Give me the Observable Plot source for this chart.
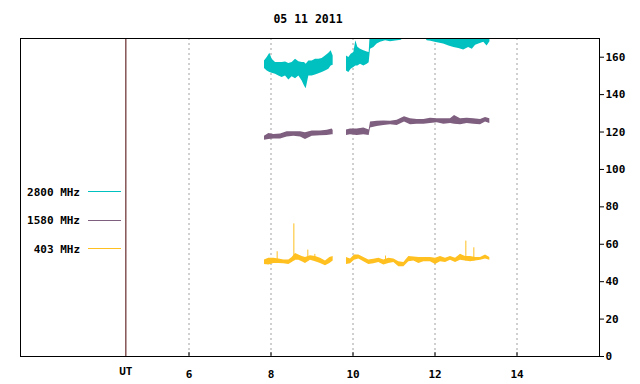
<!DOCTYPE html>
<html><head><meta charset="utf-8">
<script src="https://cdn.jsdelivr.net/npm/d3@7"></script>
<script src="https://cdn.jsdelivr.net/npm/@observablehq/plot@0.6"></script>
<style>
body{margin:0;background:#fff;font-family:"DejaVu Sans Mono",monospace;font-weight:bold;}
#title{height:30px;width:640px;position:relative}
#title span{position:absolute;left:308px;top:19px;transform:translate(-50%,-50%);font-size:11.5px;white-space:pre}
#chart svg{display:block}
</style></head><body>
<div id="title"><span>05 11 2011</span></div>
<div id="chart"></div>
<script>
const titleText = "05 11 2011";
const xTicks = [6, 8, 10, 12, 14];
const yTicks = [0, 20, 40, 60, 80, 100, 120, 140, 160];
const xDomain = [1.89, 16.012];
const yDomain = [0, 170];
const utX = 4.46;
const legendLabels = ["2800 MHz", "1580 MHz", "403 MHz"];
const colors = ["#00c0c0", "#7f5f7f", "#ffc020"];

// 2800 MHz band (null = data gap)
const tealT = [7.841,7.907,7.972,8.028,8.110,8.191,8.272,8.354,8.435,8.516,8.598,8.679,8.760,8.817,8.858,8.923,9.004,9.085,9.167,9.248,9.329,9.411,9.467,9.516,
  9.68,
  9.841,9.898,9.955,10.020,10.069,10.118,10.183,10.264,10.346,10.394,10.427,10.508,10.589,10.671,10.793,10.915,11.04,11.18,11.30,11.50,11.70,11.81,11.9,12.0,12.21,12.34,12.46,12.58,12.70,12.82,12.91,12.99,13.07,13.19,13.27,13.34];
const tealLo = [153.9,152.6,151.8,151.4,150.9,150,149.1,150,147.8,149.5,148.5,150,147.3,144.6,143.2,150,150,150.5,151.2,151.8,152.6,153.6,155.3,155.7,
  null,
  152.6,151.8,153.6,154.5,155.3,155.3,156.2,155.3,156.2,157,164.3,165.2,167,168,168.8,168.2,168.6,169.1,172,172,172,168.8,168.5,168,167,166,165.2,164.6,163.9,165.2,164.3,166.4,167,168,166,168.2];
const tealHi = [158.0,159.8,162.1,158.9,157.2,157.2,157.2,157.5,156.6,157.2,158.9,157.6,157.2,157.2,156.3,158,158,158.9,158.9,159.3,160.7,162.1,163.4,160.7,
  null,
  160.7,159.8,161.6,162.5,168.8,165.3,164.3,163.4,162.8,162.5,175,175,175,175,175,175,175,175,175,175,175,175,175,175,175,175,175,175,175,175,175,175,175,175,175,175];

// 1580 MHz band
const purpleT = [7.841,7.947,8.069,8.232,8.394,8.557,8.720,8.841,9.004,9.207,9.370,9.492,9.516,
  9.68,
  9.841,9.939,10.102,10.264,10.394,10.427,10.589,10.752,10.915,11.077,11.256,11.402,11.565,11.728,11.890,12.053,12.216,12.378,12.476,12.622,12.785,12.947,13.110,13.232,13.337];
const purpleLo = [115.6,116,116.3,116.3,117.4,117.7,117.4,116,117.7,118,118.1,118.5,118.5,
  null,
  118.1,118.5,118.1,118.5,118.1,122.2,123,123.5,123.9,123.5,125.3,123.9,124.2,124.2,124.6,125,124.2,124.6,124.2,123.9,124.6,124.2,123.9,125.3,124.6];
const purpleHi = [117.7,119.2,118.7,118.9,120.2,120.2,120.2,119.6,120.5,120.5,121,121.6,120.8,
  null,
  121.1,121.6,121.6,122.2,121.1,125.3,125.7,125.9,125.7,126.3,128.2,127.1,126.7,126.7,127.4,127.1,127.1,127.1,128.9,127.1,127.4,127.1,126.7,127.8,127.1];

// 403 MHz band
const orangeT = [7.841,7.947,8.069,8.191,8.313,8.435,8.516,8.598,8.679,8.760,8.841,8.963,9.085,9.207,9.329,9.435,9.516,
  9.68,
  9.841,9.939,10.037,10.142,10.264,10.386,10.508,10.630,10.752,10.874,10.996,11.118,11.240,11.362,11.484,11.606,11.728,11.890,12.012,12.134,12.256,12.378,12.500,12.622,12.744,12.866,12.988,13.110,13.232,13.337];
const orangeLo = [49.2,48.9,49.7,49.7,49.6,49.2,50.3,51.5,51.5,50.6,49.7,51.5,50.6,49.7,48.5,49.7,51,
  null,
  49.2,49.6,51.5,52.1,50.6,49.2,49.6,50.3,48.9,49.7,50.3,48,48,50.6,51,49.7,50.6,50.6,49.2,50.6,50.3,51.5,50.3,51.5,51,50.6,51,51.5,52.1,51.5];
const orangeHi = [51.6,52.5,52.5,52.1,51.6,51.6,52.9,55.1,54.2,53.4,52.9,53.8,53.4,52.5,51,52.9,53.4,
  null,
  52.9,52.1,54.2,54.2,52.9,51.6,52,52.5,51.6,52.5,52.1,50.6,50.3,53.4,53.2,52.9,52.9,52.9,52.5,53.4,52.5,53.4,52.5,54.6,53.4,53.4,52.9,52.9,54.2,52.9];
const spikeT = [8.150, 8.557, 8.898, 9.069, 10.793, 12.752, 12.947];
const spikeV = [56, 70.9, 56.9, 54.6, 53.7, 61.7, 58.1];
const spikeBase = 51;

const band = (T, L, H) => T.map((t, i) => ({t, lo: L[i], hi: H[i]}));
const teal = band(tealT, tealLo, tealHi);
const purple = band(purpleT, purpleLo, purpleHi);
const orange = band(orangeT, orangeLo, orangeHi);
const spikes = spikeT.map((t, i) => ({t, v: spikeV[i]}));

document.querySelector("#title span").textContent = titleText;

const chart = Plot.plot({
  width: 640, height: 354,
  marginLeft: 20, marginRight: 41, marginTop: 8, marginBottom: 28,
  x: {domain: xDomain},
  y: {domain: yDomain},
  style: {fontFamily: "DejaVu Sans Mono, monospace", fontSize: "11px", fontWeight: "bold", background: "white", color: "black"},
  marks: [
    Plot.ruleX(xTicks, {stroke: "#a0a0a0", strokeDasharray: "2,3"}),
    Plot.ruleX([utX], {stroke: "#4a0000"}),
    Plot.areaY(teal, {x: "t", y1: "lo", y2: "hi", fill: colors[0], clip: true}),
    Plot.areaY(purple, {x: "t", y1: "lo", y2: "hi", fill: colors[1], clip: true}),
    Plot.areaY(orange, {x: "t", y1: "lo", y2: "hi", fill: colors[2], clip: true}),
    Plot.ruleX(spikes, {x: "t", y1: spikeBase, y2: "v", stroke: colors[2]}),
    Plot.ruleX(xTicks, {y1: 0, y2: 2.1, stroke: "black"}),
    Plot.axisX({ticks: xTicks, tickSize: 0, tickPadding: 14, label: null}),
    Plot.axisY({anchor: "right", ticks: yTicks, tickSize: 4, tickPadding: 2, label: null}),
    Plot.text([utX], {x: d => d, y: 0, text: () => "UT", dy: 14.5}),
    Plot.frame({stroke: "black"})
  ]
});
document.getElementById("chart").appendChild(chart);

const lg = d3.select(chart).append("g");
legendLabels.forEach((lab, i) => {
  const cy = 162 + i * 28.7;
  lg.append("text").attr("x", 80).attr("y", cy).attr("dy", "0.32em")
    .attr("text-anchor", "end").attr("fill", "black").text(lab);
  lg.append("line").attr("x1", 88).attr("x2", 121).attr("y1", Math.round(cy) - 0.5).attr("y2", Math.round(cy) - 0.5)
    .attr("stroke", colors[i]);
});
</script></body></html>
